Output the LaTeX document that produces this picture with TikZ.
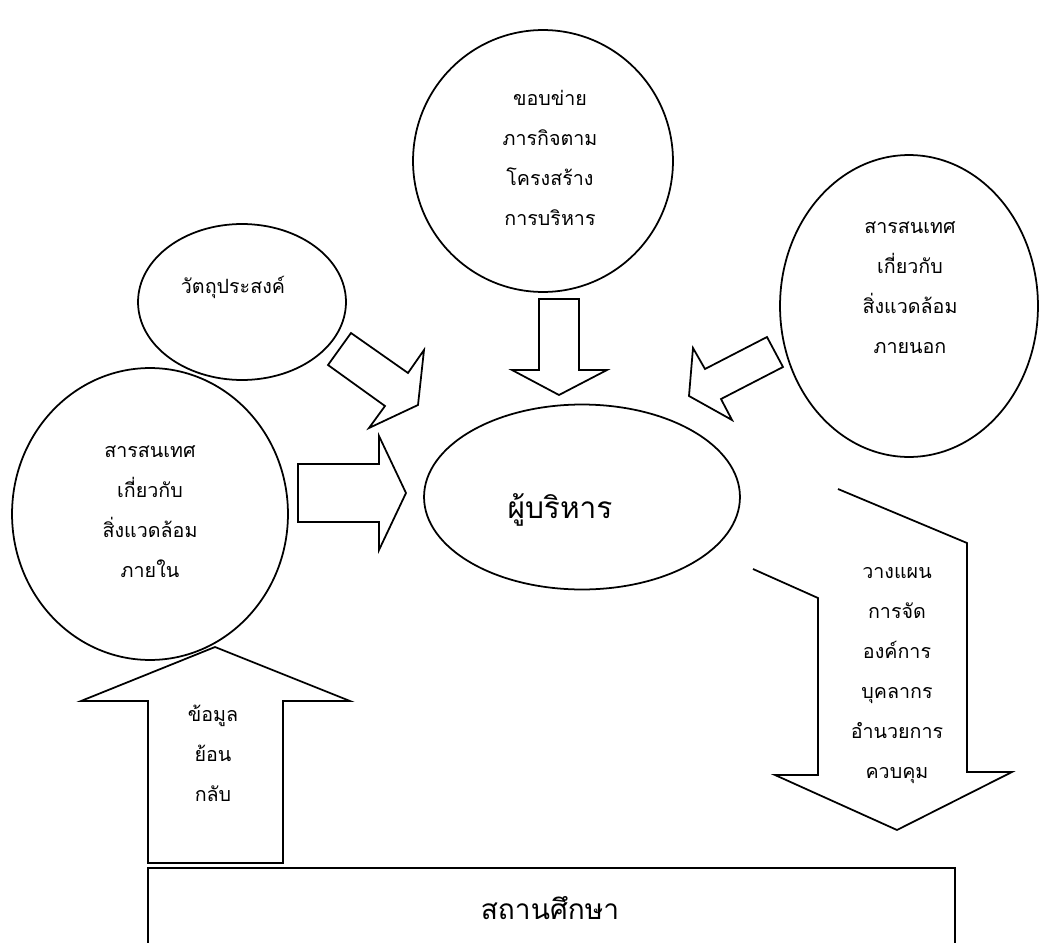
\documentclass[tikz,border=0pt]{standalone}
\usepackage{fontspec}
\newfontfamily\thaifont[Script=Thai]{Loma}
\usetikzlibrary{shapes.geometric}

\begin{document}
\begin{tikzpicture}[
        x=0.02cm, y=-0.02cm,
        bubble/.style={draw, ellipse, line width=1pt, fill=white, inner sep=0pt},
        blockarrow/.style={draw, line width=1pt, fill=white, line join=miter},
        txt/.style={font=\thaifont\fontsize{11.2}{22.76}\selectfont, align=center, inner sep=0pt},
        bigtxt/.style={font=\thaifont\fontsize{17}{20}\selectfont, align=center, inner sep=0pt}
    ]
    \useasboundingbox (0,0) rectangle (1039,943);
    \clip (0,0) rectangle (1039,943);

    % Circles round the administrator
    \node[bubble, minimum width=5.2cm, minimum height=5.24cm] (mission) at (543,161) {};
    \node[txt] (missiontext) at (550,158) {ขอบข่าย\\ภารกิจตาม\\โครงสร้าง\\การบริหาร};

    \node[bubble, minimum width=4.16cm, minimum height=3.12cm] (goal) at (242,302) {};
    \node[txt] (goaltext) at (233,287) {วัตถุประสงค์};

    \node[bubble, minimum width=5.52cm, minimum height=5.84cm] (inner) at (150,514) {};
    \node[txt] (innertext) at (150,512) {สารสนเทศ\\เกี่ยวกับ\\สิ่งแวดล้อม\\ภายใน};

    \node[bubble, minimum width=5.16cm, minimum height=6.04cm] (outer) at (909,306) {};
    \node[txt] (outertext) at (910,288) {สารสนเทศ\\เกี่ยวกับ\\สิ่งแวดล้อม\\ภายนอก};

    % Central administrator
    \node[bubble, minimum width=6.32cm, minimum height=3.7cm] (admin) at (582,497) {};
    \node[bigtxt] (admintext) at (560,510) {ผู้บริหาร};

    % School box
    \node[draw, line width=1pt, minimum width=16.14cm, minimum height=1.6cm, inner sep=0pt] (school) at (551.5,908) {};
    \node[bigtxt, font=\thaifont\fontsize{16}{20}\selectfont] (schooltext) at (550,908) {สถานศึกษา};

    % Block arrows into the administrator
    \draw[blockarrow] (539,299) -- (579,299) -- (579,370) -- (607,370) -- (559,395) -- (512,370) -- (539,370) -- cycle;
    \draw[blockarrow] (351,333) -- (408,373) -- (424,350) -- (418,405) -- (369,428) -- (385,406) -- (328,365) -- cycle;
    \draw[blockarrow] (767,337) -- (705,369) -- (693,348) -- (689,396) -- (732,420) -- (721,399) -- (783,367) -- cycle;
    \draw[blockarrow] (298,464) -- (379,464) -- (379,436) -- (406,493) -- (379,550) -- (379,522) -- (298,522) -- cycle;

    % Feedback arrow
    \draw[blockarrow] (148,863) -- (148,701) -- (81,701) -- (215,647) -- (350,701) -- (283,701) -- (283,863) -- cycle;
    \node[txt] (feedback) at (213,753) {ข้อมูล\\ย้อน\\กลับ};

    % Planning arrow down to the school
    \draw[line width=1pt, line join=miter] (753,569) -- (818,598) -- (818,775) -- (775,775) -- (897,830) -- (1012,772) -- (967,772) -- (967,543) -- (838,489);
    \node[txt] (plan) at (897,676) {วางแผน\\การจัด\\องค์การ\\บุคลากร\\อำนวยการ\\ควบคุม};

\end{tikzpicture}
\end{document}
